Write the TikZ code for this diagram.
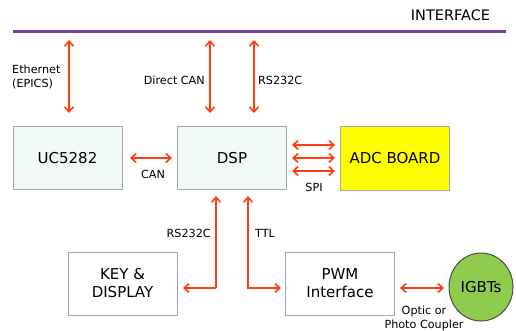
\documentclass[tikz,border=0pt]{standalone}
\usepackage{fontspec}
\setmainfont{DejaVu Sans}
\usetikzlibrary{arrows.meta,shapes.geometric}
\definecolor{lineviolet}{HTML}{7A3A9E}
\definecolor{arrred}{HTML}{FF3D10}
\definecolor{boxfill}{HTML}{F1F8F8}
\definecolor{boxline}{HTML}{A8A8A8}
\definecolor{adcyellow}{HTML}{FFFF00}
\definecolor{igbtgreen}{HTML}{8FCB4C}
\begin{document}
\begin{tikzpicture}[x=1pt,y=-1pt,
  blk/.style={draw=boxline,line width=1pt,minimum width=109pt,minimum height=63pt,inner sep=0pt,font=\fontsize{15}{18}\selectfont,align=center},
  lbl/.style={font=\fontsize{11.2}{14}\selectfont,inner sep=0pt,align=left},
  link/.style={draw=arrred,line width=2pt,{Straight Barb[length=5pt,width=9pt,line width=1.6pt]}-{Straight Barb[length=5pt,width=9pt,line width=1.6pt]}},
  oneway/.style={draw=arrred,line width=2pt,-{Straight Barb[length=5pt,width=9pt,line width=1.6pt]}}]
\useasboundingbox (0,0) rectangle (516,331);
% interface bus
\coordinate (busL) at (13,32);
\coordinate (busR) at (506,32);
\draw[lineviolet,line width=3pt] (busL) -- (busR);
\node[font=\fontsize{14.5}{17}\selectfont,inner sep=0pt] (iface) at (450.5,15) {INTERFACE};
% blocks
\node[blk,fill=boxfill] (uc) at (67.5,158) {UC5282};
\node[blk,fill=boxfill] (dsp) at (232,158) {DSP};
\node[blk,fill=adcyellow] (adc) at (395,158.5) {ADC BOARD};
\node[blk,fill=white] (key) at (122.5,283.5) {KEY \&\\DISPLAY};
\node[blk,fill=white] (pwm) at (340,283.5) {PWM\\Interface};
\node[ellipse,draw=black!70,line width=1pt,fill=igbtgreen,minimum width=64pt,minimum height=68pt,inner sep=0pt,font=\fontsize{15}{18}\selectfont] (igbt) at (481,287) {IGBTs};
% bus links
\coordinate (e1) at (69,40);
\coordinate (e2) at (69,113);
\coordinate (c1) at (210,40);
\coordinate (c2) at (210,113);
\coordinate (r1) at (254,40);
\coordinate (r2) at (254,113);
\draw[link] (e1) -- (e2);
\draw[link] (c1) -- (c2);
\draw[link] (r1) -- (r2);
\node[lbl,anchor=west] (ethl) at (12,77) {Ethernet\\(EPICS)};
\node[lbl,anchor=east] (dcl) at (205,80) {Direct CAN};
\node[lbl,anchor=west] (rsl) at (258,80) {RS232C};
% CAN
\coordinate (can1) at (130,158);
\coordinate (can2) at (172,158);
\draw[link] (can1) -- (can2);
\node[lbl] (canl) at (153,174) {CAN};
% SPI
\foreach \yy [count=\i] in {145,158,171}{
  \coordinate (s\i a) at (292,\yy);
  \coordinate (s\i b) at (335,\yy);
  \draw[link] (s\i a) -- (s\i b);
}
\node[lbl] (spil) at (314,187) {SPI};
% lower links
\coordinate (k1) at (216,196);
\coordinate (k2) at (216,288);
\coordinate (k3) at (183,288);
\draw[oneway] (k2) -- (k3);
\draw[oneway] (k2) -- (k1);
\coordinate (t1) at (248,196);
\coordinate (t2) at (248,288);
\coordinate (t3) at (281,288);
\draw[link] (t1) -- (t2) -- (t3);
\node[lbl,anchor=east] (rs2l) at (211,233) {RS232C};
\node[lbl,anchor=west] (ttll) at (255,233) {TTL};
% PWM - IGBT
\coordinate (p1) at (400,288);
\coordinate (p2) at (444,288);
\draw[link] (p1) -- (p2);
\node[lbl,align=center] (optl) at (424,318.5) {Optic or\\Photo Coupler};
\end{tikzpicture}
\end{document}
